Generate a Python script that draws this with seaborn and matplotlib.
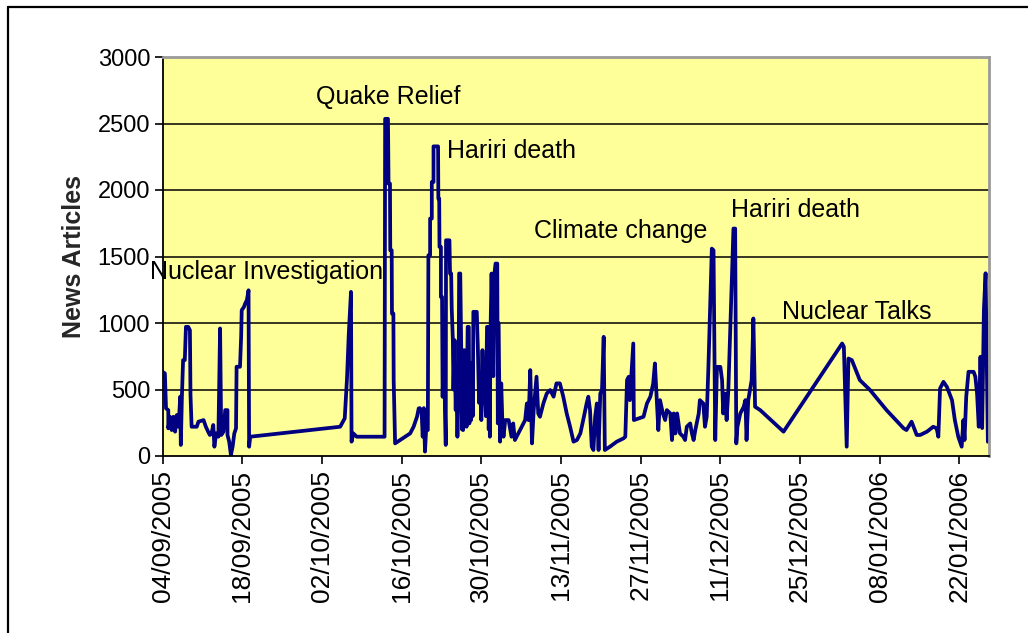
import matplotlib
matplotlib.use("Agg")
import matplotlib.pyplot as plt
from matplotlib.lines import Line2D
import seaborn as sns
import pandas as pd

# ---- data ----
start_date = "2005-09-04"
day_offset = [
    # September to mid October
    0.0, 0.4, 0.6, 1.0, 1.0, 1.3, 1.6, 1.9, 2.2, 2.5, 2.8, 3.1, 3.2, 3.4, 3.6, 3.9, 4.1, 4.5, 4.8, 4.9,
    5.1, 6.0, 6.3, 7.2, 7.6, 8.0, 8.3, 8.6, 8.9, 9.1, 9.4, 9.8, 10.1, 10.3, 10.7, 11.0, 11.4, 11.4, 11.7, 12.0,
    12.3, 12.6, 12.9, 13.0, 13.6, 13.8, 13.9, 14.3, 14.5, 14.8, 15.1, 15.2, 15.4, 31.2, 32.0, 32.4, 32.7, 33.1, 33.2, 33.5,
    34.1, 39.0, 39.1, 39.6, 39.7, 39.95, 40.0, 40.25, 40.3, 40.55, 40.6, 40.85, 43.5, 44.1, 44.7, 45.0,
    # late October burst
    45.2, 45.5, 45.7, 45.9, 46.1, 46.3, 46.6, 46.7, 47.0, 47.0, 47.3, 47.3, 47.6, 47.6, 48.4, 48.45, 48.6, 48.65, 48.9, 48.9,
    49.1, 49.2, 49.4, 49.75, 49.8, 50.4, 50.5, 50.7, 50.8, 51.0, 51.1, 51.3, 51.5, 51.6, 51.8, 52.0, 52.1, 52.3, 52.5, 52.6,
    52.7, 52.8, 53.0, 53.1, 53.3, 53.4, 53.6, 53.8, 53.9, 54.1, 54.2, 54.4, 54.5, 54.6, 55.2, 55.4, 55.6, 55.8, 56.0, 56.2,
    56.4, 56.6, 56.8, 57.0, 57.2, 57.3, 57.4, 57.5, 57.6, 57.8, 58.1, 58.3, 58.5, 58.8, 58.9, 59.0, 59.3, 59.5, 59.7, 59.9,
    60.2, 60.8, 61.3,
    # November to January
    61.6, 61.9, 62.5, 63.1, 63.7, 64.0, 64.3, 64.6, 64.9, 65.2, 65.7, 66.0, 66.3, 66.9, 67.5,
    68.1, 68.7, 69.2, 69.8, 70.4, 71.0, 71.6, 72.2, 72.8, 73.4, 73.9, 74.5, 74.8, 75.1, 75.4, 75.7, 76.0, 76.3, 76.6, 76.9,
    77.2, 77.5, 77.7, 78.6, 79.8, 81.0, 81.3, 81.6, 81.9, 82.1, 82.7, 82.8, 84.5, 85.1, 85.7, 86.2, 86.5, 86.8, 87.1, 87.4,
    87.9, 88.3, 88.6, 89.2, 89.5, 89.8, 90.1, 90.4, 90.9, 91.5, 91.8, 92.1, 92.7, 93.0, 93.3, 93.6, 94.2, 94.4, 95.0, 95.3,
    95.6, 95.9, 96.2, 96.5, 96.8, 97.1, 97.4, 98.0, 98.3, 98.5, 98.8, 99.1, 99.4, 99.7, 100.0, 100.3, 100.6, 100.8, 101.0, 101.5,
    102.1, 102.4, 102.6, 102.9, 103.5, 103.8, 104.1, 105.0, 109.1, 119.4, 119.7, 120.2, 120.5, 121.1, 122.5, 124.3, 127.2, 130.2, 130.7, 131.6,
    132.5, 133.1, 134.3, 135.4, 136.0, 136.3, 136.6, 137.2, 137.8, 138.7, 139.2, 139.8, 140.4, 140.7, 140.9, 141.2, 141.6, 142.5, 142.8, 143.1,
    143.4, 143.7, 144.0, 144.3, 144.6, 145.0,
]
articles = [
    # September to mid October
    633, 621, 358, 345, 208, 295, 195, 295, 183, 308, 220, 446, 83, 458, 721, 721, 971, 971, 946, 458,
    220, 220, 258, 270, 220, 183, 158, 170, 233, 70, 170, 145, 959, 158, 183, 345, 345, 158, 108, 8,
    70, 170, 208, 671, 671, 896, 1096, 1121, 1146, 1171, 1246, 70, 145, 220, 283, 583, 908, 1234, 108, 170,
    145, 145, 2535, 2535, 2048, 2048, 1547, 1547, 1071, 1071, 571, 95, 170, 220, 295, 358,
    # late October burst
    360, 340, 145, 360, 33, 195, 195, 1509, 1509, 1785, 1785, 2060, 2060, 2328, 2328, 1935, 1935, 1572, 1572, 1196,
    1196, 445, 800, 83, 1622, 1622, 1372, 1372, 1109, 871, 500, 871, 345, 600, 145, 500, 1372, 1372, 696, 200,
    400, 195, 796, 300, 700, 220, 971, 971, 245, 600, 270, 700, 300, 1084, 1084, 796, 400, 520, 270, 796,
    400, 520, 300, 971, 971, 200, 600, 145, 900, 1372, 600, 1372, 1447, 1447, 245, 1000, 108, 546, 250, 145,
    270, 270, 145,
    # November to January
    245, 120, 170, 220, 270, 395, 270, 646, 95, 345, 596, 320, 295, 395, 470,
    496, 446, 546, 546, 446, 320, 220, 108, 120, 170, 270, 395, 446, 345, 70, 45, 295, 395, 45, 470,
    496, 896, 45, 70, 108, 133, 145, 571, 596, 420, 846, 270, 295, 395, 446, 546, 696, 446, 195, 420,
    320, 270, 345, 320, 120, 320, 170, 320, 170, 145, 120, 220, 245, 170, 120, 195, 320, 420, 395, 220,
    295, 670, 1109, 1559, 1547, 120, 670, 670, 571, 320, 470, 270, 496, 896, 1321, 1710, 1710, 95, 220, 320,
    370, 420, 120, 420, 571, 1034, 370, 345, 183, 846, 821, 70, 733, 721, 571, 496, 345, 208, 195, 258,
    158, 158, 183, 220, 208, 145, 508, 558, 520, 420, 270, 145, 70, 270, 120, 446, 633, 633, 596, 470,
    220, 746, 210, 1096, 1374, 107,
]
y_ticks = [0, 500, 1000, 1500, 2000, 2500, 3000]
x_tick_count = 11
annotation_texts = ["Quake Relief", "Hariri death", "Nuclear Investigation",
                    "Climate change", "Hariri death", "Nuclear Talks"]
annotation_days = [27.0, 50.0, -2.2, 65.3, 99.9, 108.9]
annotation_values = [2696, 2290, 1382, 1690, 1847, 1081]
y_label = "News Articles"

# ---- build frame ----
t0 = pd.Timestamp(start_date)
df = pd.DataFrame({
    "date": t0 + pd.to_timedelta(day_offset, unit="D"),
    "articles": articles,
})

sns.set_style("white")
plt.rcParams["font.family"] = ["Liberation Sans", "DejaVu Sans"]

fig = plt.figure(figsize=(10.28, 6.33), dpi=100)
fig.patch.set_facecolor("white")
ax = fig.add_axes([162.6 / 1028, 1 - 456 / 633, (989 - 162.6) / 1028, (456 - 57) / 633])
ax.set_facecolor("#FFFF99")

sns.lineplot(data=df, x="date", y="articles", estimator=None, sort=False,
             color="#000080", linewidth=2.7, ax=ax, legend=False)

ax.set_ylim(0, 3000)
ax.set_yticks(y_ticks)
ax.set_yticklabels([str(v) for v in y_ticks], fontsize=17)
ax.set_xlim(t0, t0 + pd.Timedelta(days=145.2))
xt = pd.date_range(t0, periods=x_tick_count, freq="14D")
ax.set_xticks(xt)
ax.set_xticklabels([d.strftime("%d/%m/%Y") for d in xt], rotation=90, fontsize=19)
ax.tick_params(axis="both", direction="out", length=6, width=1.2, color="black",
               bottom=True, left=True, labelcolor="black")
ax.tick_params(axis="x", pad=4)
ax.tick_params(axis="y", pad=3)

ax.grid(False)
for yv in y_ticks[1:]:
    ax.axhline(yv, color="black", linewidth=1.1, zorder=1)

ax.spines["left"].set_color("black")
ax.spines["bottom"].set_color("black")
ax.spines["left"].set_linewidth(1.3)
ax.spines["bottom"].set_linewidth(1.3)
for s in ("top", "right"):
    ax.spines[s].set_color("#9a9a9a")
    ax.spines[s].set_linewidth(2)
    ax.spines[s].set_visible(True)

ax.set_xlabel("")
ax.set_ylabel(y_label, fontsize=18, fontweight="bold", labelpad=8)

for txt, d, v in zip(annotation_texts, annotation_days, annotation_values):
    ax.text(t0 + pd.Timedelta(days=d), v, txt, fontsize=18, ha="left", va="center",
            color="black", clip_on=False, zorder=5)

# outer chart border (left and top visible)
fig.add_artist(Line2D([8 / 1028, 8 / 1028], [0, 1 - 7 / 633], transform=fig.transFigure,
                      color="black", linewidth=1.6))
fig.add_artist(Line2D([8 / 1028, 1], [1 - 7 / 633, 1 - 7 / 633], transform=fig.transFigure,
                      color="black", linewidth=1.6))

fig.savefig("out.png", dpi=100, facecolor="white")
